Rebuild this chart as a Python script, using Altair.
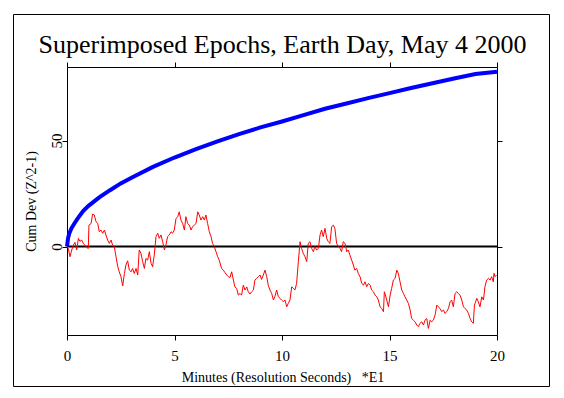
import altair as alt
import pandas as pd

# ---- data ----
blue_minutes = [0, 0.05, 0.1, 0.2, 0.35, 0.5, 0.75, 1, 1.5, 2, 2.5, 3, 4, 5, 6, 7, 8,
                9, 10, 11, 12, 13, 14, 15, 16, 17, 18, 19, 20]
blue_cumdev = [0, 4, 6, 8.5, 11, 13.3, 16.8, 19.2, 23.2, 26.6, 29.8, 32.5, 37.6, 42,
               46, 49.6, 53, 56.2, 59, 62, 65, 67.5, 70, 72.4, 74.8, 77, 79.3, 81.4, 82.5]

red_minutes = [
    0.00, 0.06, 0.14, 0.22, 0.30, 0.37, 0.45, 0.53, 0.60, 0.68, 0.76, 0.84, 0.92, 0.99,
    1.02, 1.12, 1.19, 1.27, 1.35, 1.43, 1.50, 1.58, 1.66, 1.74, 1.81, 1.89, 1.97, 2.05,
    2.12, 2.20, 2.28, 2.36, 2.43, 2.51, 2.59, 2.67, 2.74, 2.82, 2.90, 2.98, 3.05, 3.13,
    3.21, 3.29, 3.36, 3.44, 3.52, 3.60, 3.67, 3.75, 3.83, 3.91, 3.98, 4.06, 4.14, 4.22,
    4.29, 4.37, 4.45, 4.53, 4.60, 4.68, 4.76, 4.84, 4.91, 4.99, 5.07, 5.15, 5.22, 5.30,
    5.38, 5.46, 5.53, 5.61, 5.69, 5.77, 5.84, 5.92, 6.00, 6.08, 6.15, 6.23, 6.31, 6.39,
    6.46, 6.54, 6.62, 6.70, 6.77, 6.85, 6.93, 7.01, 7.08,
    7.19, 7.27, 7.35, 7.43, 7.50, 7.58, 7.66, 7.74, 7.81, 7.89, 7.97, 8.05, 8.12, 8.20,
    8.28, 8.36, 8.43, 8.51, 8.59, 8.67, 8.74, 8.82, 8.90, 8.98, 9.05, 9.13, 9.21, 9.29,
    9.36, 9.44, 9.52, 9.60, 9.67, 9.75, 9.83, 9.91, 9.98, 10.06, 10.14, 10.22, 10.29,
    10.37, 10.45, 10.53, 10.60, 10.68, 10.76, 10.84, 10.91, 10.99, 11.07, 11.15, 11.22,
    11.30, 11.38, 11.46, 11.53, 11.61, 11.69, 11.77, 11.84, 11.92, 12.00, 12.08, 12.15,
    12.23, 12.31, 12.39, 12.46, 12.54, 12.62, 12.70, 12.77, 12.85, 12.93, 13.01, 13.08,
    13.16, 13.24, 13.32, 13.39, 13.47, 13.55, 13.63,
    13.71, 13.79, 13.86, 13.94, 14.02, 14.10, 14.17, 14.25, 14.33, 14.41, 14.48, 14.56,
    14.64, 14.72, 14.76, 14.79, 14.87, 14.95, 15.03, 15.10, 15.18, 15.26, 15.34, 15.41,
    15.49, 15.57, 15.65, 15.72, 15.80, 15.88, 15.96, 16.03, 16.11, 16.19, 16.27, 16.34,
    16.42, 16.50, 16.58, 16.65, 16.73, 16.81, 16.89, 16.96, 17.04, 17.12, 17.20, 17.27,
    17.35, 17.43, 17.51, 17.58, 17.66, 17.74, 17.82, 17.89, 17.97, 18.05, 18.13, 18.20,
    18.28, 18.36, 18.44, 18.51, 18.59, 18.67, 18.75, 18.82, 18.90, 18.95, 18.98, 19.06,
    19.13, 19.21, 19.29, 19.37, 19.44, 19.52, 19.60, 19.68, 19.75, 19.83, 19.86, 19.91,
    19.98,
]
red_cumdev = [
    0, -0.9, -4.8, -1.6, 0.7, 2.0, -1.6, 3.9, 2.5, 3.1, 1.5, 0.5, -0.4, -0.9,
    10.1, 10.9, 15.3, 14.9, 11.7, 10.9, 7.0, 7.8, 6.3, 7.8, 5.5, 3.1, 1.5, 3.1,
    0.7, 0, -4.8, -9.5, -11.9, -14.2, -18.6, -12.7, -8.7, -6.7, -11.1, -11.9, -10.3, -12.7,
    -10.3, -13.4, -1.6, -3.2, -7.1, -10.3, -5.6, -6.4, -2.4, -7.9, -9.5, -3.9, 4.7, 6.3,
    3.9, 5.5, 2.3, -1.6, 0.7, 4.7, 5.5, 7.0, 6.3, 7.8, 13.3, 14.1, 16.4, 12.5,
    10.9, 7.8, 14.1, 10.9, 10.1, 7.8, 9.4, 10.1, 10.9, 16.4, 14.9, 12.5, 14.1, 12.5,
    14.9, 10.9, 7.0, 4.7, 1.5, 0, -2.4, -4.8, -6.4,
    -10.3, -11.1, -12.3, -13.4, -14.2, -14.6, -11.9, -15.8, -19.0, -19.7, -22.9, -22.1, -22.9, -18.2,
    -20.5, -19.0, -21.3, -22.4, -21.3, -20.5, -15.8, -15.0, -14.2, -13.4, -15.5, -13.4, -11.1, -14.2,
    -18.2, -20.5, -22.1, -25.2, -23.6, -20.5, -23.6, -24.4, -25.2, -26.0, -25.2, -28.4, -26.8,
    -25.2, -19.0, -19.7, -20.5, -17.4, -7.1, 2.3, -0.9, -3.2, -4.8, -7.1, 1.5,
    2.3, -0.9, -2.4, 0, -1.6, -0.9, 5.5, 7.8, 4.7, 8.6, 3.9, 2.3,
    1.5, 9.4, 10.1, 8.6, 1.5, 0, -0.9, -2.4, 2.3, 1.5, -2.4, -1.6,
    -4.0, -6.4, -8.7, -11.1, -10.3, -12.7, -14.2,
    -17.4, -18.2, -16.6, -18.9, -17.4, -18.2, -20.5, -21.3, -22.9, -23.7, -25.2, -28.4,
    -29.2, -30.7, -21.3, -22.1, -25.2, -28.4, -22.9, -19.7, -15.8, -15.0, -11.1, -12.7,
    -16.6, -20.5, -22.1, -23.7, -25.2, -26.8, -29.9, -33.9, -34.7, -35.5, -37.0, -37.8,
    -36.2, -35.5, -37.0, -34.7, -33.9, -38.6, -34.7, -35.5, -34.7, -32.3, -27.6, -28.4,
    -29.2, -30.7, -29.9, -31.5, -30.7, -29.2, -26.0, -25.2, -28.4, -22.1, -21.3, -22.1,
    -22.9, -25.2, -28.4, -29.2, -29.9, -31.5, -33.9, -35.5, -36.2, -27.6, -26.8, -24.4,
    -26.0, -28.4, -23.7, -25.2, -18.9, -15.8, -15.0, -15.8, -14.2, -16.6, -12.6, -14.2,
    -13.4,
]

x_ticks = [0, 5, 10, 15, 20]
y_ticks = [0, 50]
title_text = "Superimposed Epochs, Earth Day, May 4 2000"
x_title = "Minutes (Resolution Seconds)\u00a0\u00a0\u00a0*E1"
y_title = "Cum Dev (Z^2-1)"

blue_df = pd.DataFrame({"minutes": blue_minutes, "cumdev": blue_cumdev})
red_df = pd.DataFrame({"minutes": red_minutes, "cumdev": red_cumdev})

FONT = "Liberation Serif"
x_scale = alt.Scale(domain=[0, 20], nice=False, zero=False)
y_scale = alt.Scale(domain=[-41.7, 84.7], nice=False, zero=False)

red = alt.Chart(red_df).mark_line(color="#ff0000", strokeWidth=1).encode(
    x=alt.X("minutes:Q", scale=x_scale, axis=alt.Axis(
        orient="bottom", values=x_ticks, tickSize=5, labelPadding=20,
        labelBaseline="alphabetic", labelFontSize=15, labelFont=FONT,
        labelColor="black", title=x_title, titleFont=FONT, titleFontSize=14,
        titleFontWeight="normal", titleColor="black", titleX=215.5, titleY=46.5,
        titleBaseline="alphabetic", titleAlign="center", grid=False,
        domainColor="black", tickColor="black", labelFlush=False, labelOverlap=False)),
    y=alt.Y("cumdev:Q", scale=y_scale, axis=alt.Axis(
        orient="left", values=y_ticks, tickSize=5, labelPadding=0.5,
        labelAngle=270, labelAlign="center", labelBaseline="alphabetic",
        labelFontSize=15, labelFont=FONT, labelColor="black", title=y_title,
        titleFont=FONT, titleFontSize=14, titleFontWeight="normal",
        titleColor="black", titleAngle=270, titleX=-32, titleY=134,
        titleBaseline="alphabetic", titleAlign="center", grid=False,
        domainColor="black", tickColor="black", labelFlush=False, labelOverlap=False)),
)

blue = alt.Chart(blue_df).mark_line(color="#0000ff", strokeWidth=4).encode(
    x=alt.X("minutes:Q", scale=x_scale, axis=alt.Axis(
        orient="top", values=x_ticks, tickSize=5, labels=False, title="",
        grid=False, domainColor="black", tickColor="black")),
    y=alt.Y("cumdev:Q", scale=y_scale, axis=alt.Axis(
        orient="right", values=y_ticks, tickSize=5, labels=False, title="",
        grid=False, domainColor="black", tickColor="black")),
)

zero = alt.Chart(pd.DataFrame({"v": [0]})).mark_rule(color="black", strokeWidth=2).encode(
    y=alt.Y("v:Q", scale=y_scale, axis=None)
)

frame = alt.Chart(pd.DataFrame({"v": [0]})).mark_rect(
    fillOpacity=0, stroke="black", strokeWidth=1
).encode(
    x=alt.value(-53.5), x2=alt.value(482.5), y=alt.value(-52.5), y2=alt.value(319.5)
)

title = alt.Chart(pd.DataFrame({"t": [title_text]})).mark_text(
    font=FONT, fontSize=26, color="black", align="center", baseline="alphabetic"
).encode(
    text="t:N", x=alt.value(215.5), y=alt.value(-14.5)
)

chart = alt.layer(frame, zero, red, blue, title).resolve_axis(
    x="independent", y="independent"
).properties(
    width=430, height=268,
    padding={"left": 59, "top": 59, "right": 59, "bottom": 55},
    autosize=alt.AutoSizeParams(type="none"),
).configure_view(stroke="transparent")

chart.save("out.html", embed_options={"renderer": "svg", "actions": False})
